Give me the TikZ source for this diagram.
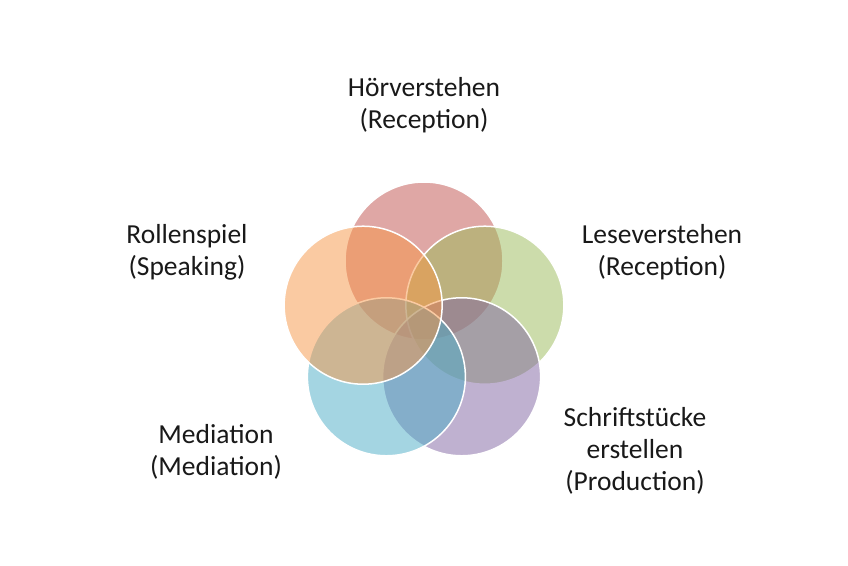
\documentclass[tikz,border=0pt]{standalone}
\usepackage{fontspec}
\setmainfont{Carlito}
\usetikzlibrary{calc}
\begin{document}
\begin{tikzpicture}[x=1pt,y=1pt,
  venn/.style={circle,minimum size=158pt,inner sep=0pt,draw=white,line width=1.5pt,fill opacity=0.5},
  lbl/.style={align=center,font=\fontsize{27.5}{32}\selectfont,text=black!90}]
\useasboundingbox[fill=white] (0,0) rectangle (848,565);
\definecolor{cRed}{HTML}{C0504D}
\definecolor{cGreen}{HTML}{9BBB59}
\definecolor{cPurple}{HTML}{8064A2}
\definecolor{cBlue}{HTML}{4BACC6}
\definecolor{cOrange}{HTML}{F79646}
\coordinate (ctr) at (424,240);
\node[venn,fill=cRed]    (hoer)  at ($(ctr)+(90:64)$) {};
\node[venn,fill=cGreen]  (lese)  at ($(ctr)+(18:64)$) {};
\node[venn,fill=cPurple] (schr)  at ($(ctr)+(-54:64)$) {};
\node[venn,fill=cBlue]   (med)   at ($(ctr)+(-126:64)$) {};
\node[venn,fill=cOrange] (roll)  at ($(ctr)+(162:64)$) {};
\node[lbl] (thoer) at (424,460) {Hörverstehen\\(Reception)};
\node[lbl] (tlese) at (662,313) {Leseverstehen\\(Reception)};
\node[lbl] (tschr) at (635,114) {Schriftstücke\\erstellen\\(Production)};
\node[lbl] (tmed)  at (216,113) {Mediation\\(Mediation)};
\node[lbl] (troll) at (187,313) {Rollenspiel\\(Speaking)};
\end{tikzpicture}
\end{document}
